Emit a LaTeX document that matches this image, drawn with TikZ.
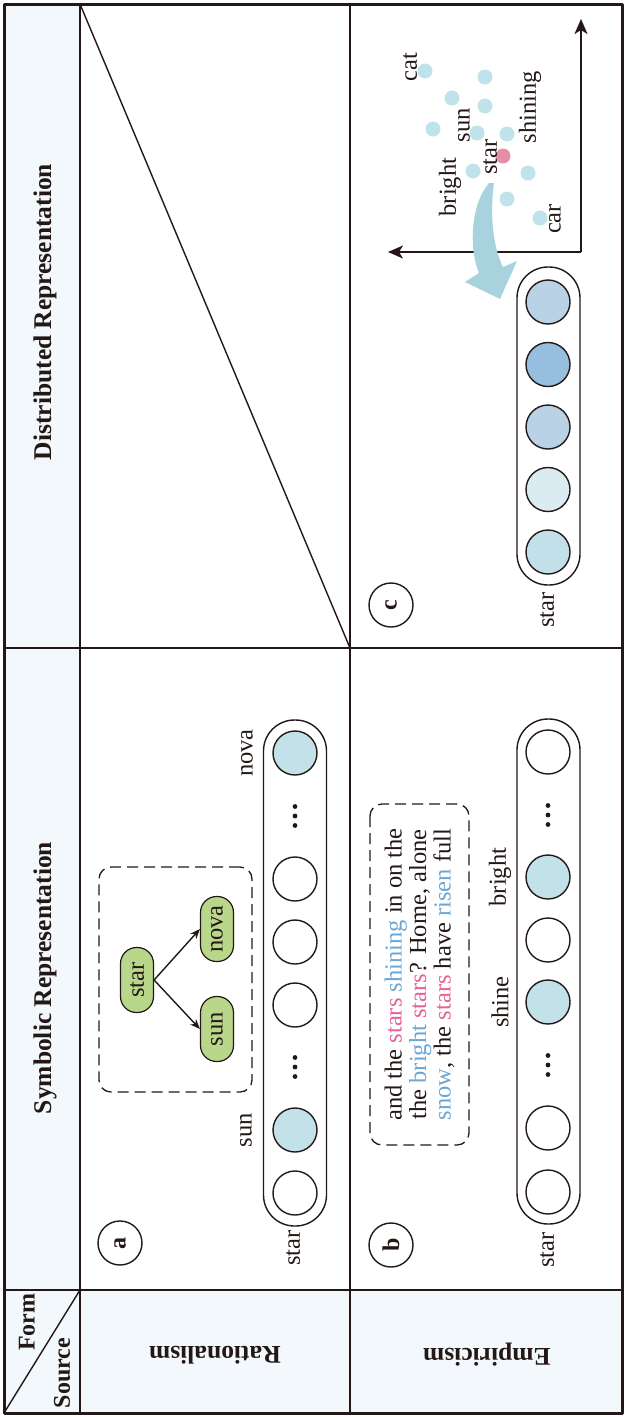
\documentclass[tikz,border=0pt]{standalone}
\usepackage{fontspec}
\setmainfont{Liberation Serif}
\usetikzlibrary{arrows.meta}
\definecolor{lc}{RGB}{35,24,21}
\definecolor{hdr}{RGB}{242,248,251}
\definecolor{lb}{RGB}{194,225,233}
\definecolor{ptc}{RGB}{192,226,234}
\definecolor{pkpt}{RGB}{228,142,168}
\definecolor{gr}{RGB}{184,215,138}
\definecolor{pk}{RGB}{231,98,152}
\definecolor{bl}{RGB}{108,166,212}
\definecolor{cA}{RGB}{194,224,233}
\definecolor{cB}{RGB}{219,235,242}
\definecolor{cC}{RGB}{186,210,230}
\definecolor{cD}{RGB}{150,190,222}
\definecolor{teal}{RGB}{168,211,222}
\newcommand{\dotsv}[2]{%
  \fill[lc] (#1,#2-9.5) circle (2.4pt);
  \fill[lc] (#1,#2) circle (2.4pt);
  \fill[lc] (#1,#2+9.5) circle (2.4pt);}
\begin{document}
\begin{tikzpicture}[x=1pt,y=-1pt,line join=round,
  every node/.style={font=\fontsize{24.5}{24.5}\selectfont, text=lc},
  grid/.style={draw=lc, line width=1.4pt},
  border/.style={draw=lc, line width=3pt},
  hd/.style={font=\fontsize{25.5}{25.5}\selectfont\bfseries, inner sep=0pt},
  hd2/.style={font=\fontsize{24}{24}\selectfont\bfseries, inner sep=0pt},
  tag/.style={circle, draw=lc, line width=1.4pt, minimum size=44pt, inner sep=0pt, font=\fontsize{24}{24}\selectfont\bfseries},
  pill/.style={draw=lc, line width=1.4pt, rounded corners=31pt, minimum width=63pt, inner sep=0pt},
  cell/.style={circle, draw=lc, line width=1.4pt, minimum size=44pt, inner sep=0pt},
  pt/.style={circle, fill=ptc, minimum size=15pt, inner sep=0pt},
  gnode/.style={draw=lc, line width=1.2pt, fill=gr, rounded corners=16pt, minimum width=33pt, minimum height=65pt, inner sep=0pt},
  dbox/.style={draw=lc, line width=1.3pt, dash pattern=on 11pt off 6pt, rounded corners=12pt, inner sep=0pt},
  arr/.style={draw=lc, line width=1.4pt, -{Stealth[length=10pt,width=8pt]}},
  axis/.style={draw=lc, line width=1.6pt, -{Stealth[length=15pt,width=13pt,inset=4pt]}},
  lbl/.style={rotate=90, inner sep=0pt}
]
\useasboundingbox (0,0) rectangle (626,1417);
% backgrounds
\fill[hdr] (4,4) rectangle (80,1413);
\fill[hdr] (80,1290) rectangle (622,1413);
% grid
\draw[grid] (80,4) -- (80,1413);
\draw[grid] (350,4) -- (350,1413);
\draw[grid] (4,648) -- (622,648);
\draw[grid] (4,1290) -- (622,1290);
\draw[grid] (80,4) -- (350,648);
\draw[grid] (80,1290) -- (4,1413);
\draw[border] (4,4) rectangle (622,1413);
% headers
\node[hd, rotate=90] (hdist) at (45,312) {Distributed Representation};
\node[hd, rotate=90] (hsym) at (45,978) {Symbolic Representation};
\node[hd, rotate=180] (hrat) at (215,1355) {Rationalism};
\node[hd, rotate=180] (hemp) at (487,1355) {Empiricism};
\node[hd2, rotate=90] (hform) at (27,1322) {Form};
\node[hd2, rotate=90] (hsrc) at (62,1373) {Source};

% ---------- (a) ----------
\node[tag, rotate=90] (ta) at (120,1243) {a};
\node[pill, minimum height=506pt] (pa) at (295,973) {};
\node[cell, fill=lb] (a1) at (295,753) {};
\dotsv{295}{816}
\node[cell] (a3) at (295,879) {};
\node[cell] (a4) at (295,942) {};
\node[cell] (a5) at (295,1005) {};
\dotsv{295}{1067}
\node[cell, fill=lb] (a7) at (295,1130) {};
\node[cell] (a8) at (295,1193) {};
\node[lbl] (lnova) at (247,753) {nova};
\node[lbl] (lsuna) at (246,1130) {sun};
\node[lbl] (lstara) at (293,1248) {star};
\node[dbox, minimum width=153pt, minimum height=225pt] (da) at (175.5,979.5) {};
\node[gnode] (gstar) at (137,980) {\rotatebox{90}{star}};
\node[gnode] (gnova) at (217,929) {\rotatebox{90}{nova}};
\node[gnode] (gsun) at (217,1029) {\rotatebox{90}{sun}};
\draw[arr] (gstar.east) -- (gnova.west);
\draw[arr] (gstar.east) -- (gsun.west);

% ---------- (b) ----------
\node[tag, rotate=90] (tb) at (391,1245) {b};
\node[pill, minimum height=505pt] (pb) at (548.5,971.5) {};
\node[cell] (b1) at (548,752) {};
\dotsv{548}{815}
\node[cell, fill=lb] (b3) at (548,877) {};
\node[cell] (b4) at (548,940) {};
\node[cell, fill=lb] (b5) at (548,1002) {};
\dotsv{548}{1065}
\node[cell] (b7) at (548,1128) {};
\node[cell] (b8) at (548,1192) {};
\node[lbl] (lbright) at (500,877) {bright};
\node[lbl] (lshine) at (500,1002) {shine};
\node[lbl] (lstarb) at (547,1250) {star};
\node[dbox, rotate=90, minimum width=341pt, minimum height=99pt, align=center] (db) at (419.5,974.5)
 {and the \textcolor{pk}{stars} \textcolor{bl}{shining} in on the\\
  the \textcolor{bl}{bright} \textcolor{pk}{stars}? Home, alone\\
  \textcolor{bl}{snow}, the \textcolor{pk}{stars} have \textcolor{bl}{risen} full};

% ---------- (c) ----------
\node[tag, rotate=90] (tc) at (391,605) {c};
\node[pill, minimum height=318pt] (pc) at (548.5,426) {};
\node[cell, fill=cC] (c1) at (548,302) {};
\node[cell, fill=cD] (c2) at (548,364.5) {};
\node[cell, fill=cC] (c3) at (548,427) {};
\node[cell, fill=cB] (c4) at (548,489.5) {};
\node[cell, fill=cA] (c5) at (548,552) {};
\node[lbl] (lstarc) at (547,610) {star};
% axes
\coordinate (o) at (581,252);
\coordinate (ytip) at (581,19);
\coordinate (xtip) at (388,252);
\draw[axis] (o) -- (ytip);
\draw[axis] (o) -- (xtip);
% points
\node[pt] (p1) at (425,71) {};
\node[pt] (p2) at (485,77) {};
\node[pt] (p3) at (452,98) {};
\node[pt] (p4) at (485,106) {};
\node[pt] (p5) at (433,129) {};
\node[pt] (p6) at (477,133) {};
\node[pt] (p7) at (507,134) {};
\node[pt, fill=pkpt] (p8) at (503,156) {};
\node[pt] (p9) at (473,171) {};
\node[pt] (p10) at (528,173) {};
\node[pt] (p11) at (507,199) {};
\node[pt] (p12) at (540,218) {};
\node[lbl] (lcat) at (410,67) {cat};
\node[lbl] (lsunc) at (464,125) {sun};
\node[lbl] (lshining) at (530,107) {shining};
\node[lbl] (lstarp) at (490,157) {star};
\node[lbl] (lbrightc) at (450,187) {bright};
\node[lbl] (lcar) at (555,219) {car};
% big curved arrow
\fill[teal] (494,183) -- (489,183) .. controls (470,205) and (469,250) .. (479,273)
  -- (465,282) -- (500,299) -- (517,261) -- (503,267)
  .. controls (492,245) and (490,210) .. (494,183) -- cycle;
\end{tikzpicture}
\end{document}
